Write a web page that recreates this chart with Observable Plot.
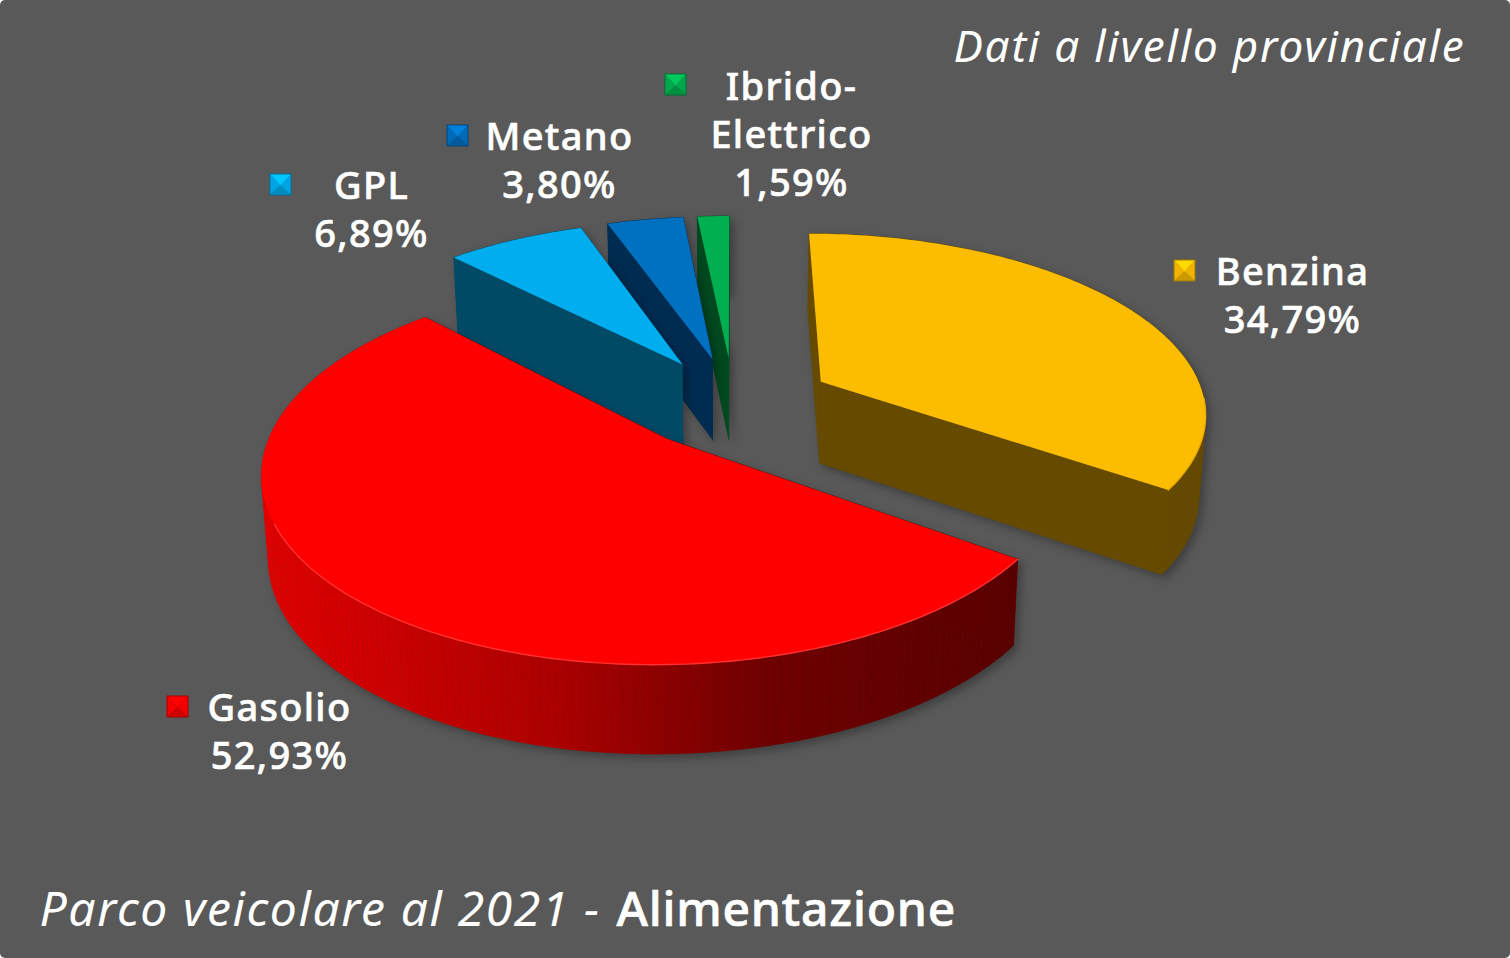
<!DOCTYPE html>
<html><head><meta charset="utf-8">
<script src="https://cdn.jsdelivr.net/npm/d3@7"></script>
<script src="https://cdn.jsdelivr.net/npm/@observablehq/plot@0.6"></script>
<style>
html,body{margin:0;padding:0;background:#fff}
svg{display:block;border-radius:5px}
g[aria-description="slice body"]{filter:drop-shadow(4px 4px 4px rgba(0,0,0,.3))}
g[aria-description="labels"] text{letter-spacing:1.3px;stroke:#fff;stroke-width:.6px}
g[aria-description="note"] text{letter-spacing:1.8px}
g[aria-description="title-a"] text{letter-spacing:1.6px}
g[aria-description="title-b"] text{letter-spacing:.8px;stroke:#fff;stroke-width:.7px}
</style></head><body><div id="chart"></div>
<script>
const categories=["Benzina","Gasolio","GPL","Metano","Ibrido-\nElettrico"];
const shares=[34.79,52.93,6.89,3.80,1.59];
const topColors=["#fcbd00","#ff0000","#00adef","#0070c0","#00b050"];
const wallColors=["#664a00","#660000","#004a66","#002c52","#004a20"];
const edgeColors=["#e8ad00","#ff3030",null,null,null];
const labelX=[1292,279,371,559,791];
const labelY=[293,729,207,158,132];
const keyX=[1184,177,280,457,675];
const keyY=[270,706,184,135,84];
const drawOrder=[4,3,2,0,1];
const rimStopsX=[270,560,660,760,1020];
const rimStopsColor=["#e00000","#aa0000","#8c0000","#700000","#580000"];

const W=1510,H=958;
const cx=733,cy=402,Rx=385,Ry=177.5,k=0.158,explode=0.26,startDeg=0,depthScale=0.985;
const rad=d=>d*Math.PI/180;
function project(u,v,bottom){
  const s=1/(1+k*v);
  let x=Rx*u*s, y=cy-Ry*v*s;
  if(bottom){x*=depthScale;y+=51+31*s;}
  return [cx+x,y];
}
let acc=startDeg;
const slices=shares.map((p,i)=>{const a0=acc,a1=acc+p/100*360;acc=a1;return {i,a0,a1,m:(a0+a1)/2};});
function ground(sl,r,a){
  return [explode*Math.sin(rad(sl.m))+r*Math.sin(rad(a)),explode*Math.cos(rad(sl.m))+r*Math.cos(rad(a))];
}
function poly(rows,id,color,pts){pts.forEach(p=>rows.push({id,color,x:p[0],y:p[1]}));}
const redRamp=d3.scaleLinear().domain(rimStopsX).range(rimStopsColor).clamp(true);
function sliceRows(sl){
  const body=[],top=[],edge=[];
  const P=(r,a,b)=>{const g=ground(sl,r,a);return project(g[0],g[1],b);};
  const w=wallColors[sl.i];
  poly(body,"cutA",w,[P(0,0,false),P(1,sl.a0,false),P(1,sl.a0,true),P(0,0,true)]);
  poly(body,"cutB",w,[P(0,0,false),P(1,sl.a1,false),P(1,sl.a1,true),P(0,0,true)]);
  const n=Math.max(2,Math.ceil((sl.a1-sl.a0)));
  const step=(sl.a1-sl.a0)/n;
  for(let j=0;j<n;j++){
    const a=sl.a0+j*step,b=a+step;
    const pa=P(1,a+step/2,false);
    const c=sl.i===1?d3.rgb(redRamp(pa[0])).formatHex():w;
    poly(body,"rim"+j,c,[P(1,a,false),P(1,b,false),P(1,b,true),P(1,a,true)]);
  }
  const arc=[P(0,0,false)];
  for(let j=0;j<=n;j++){
    const a=sl.a0+j*step,p=P(1,a,false);
    arc.push(p);
    if(edgeColors[sl.i]&&a>95&&a<245)edge.push({id:"edge",x:p[0],y:p[1]});
  }
  poly(top,"top",topColors[sl.i],arc);
  return {body,top,edge};
}
const marks=[];
const lineOpts={x:"x",y:"y",z:"id",fill:"color",stroke:"color",strokeWidth:.7,curve:"linear"};
drawOrder.forEach(i=>{
  const r=sliceRows(slices[i]);
  marks.push(Plot.line(r.body,{...lineOpts,ariaDescription:"slice body"}));
  marks.push(Plot.line(r.top,{...lineOpts,strokeWidth:0,stroke:null,ariaDescription:"slice top"}));
  if(r.edge.length)marks.push(Plot.line(r.edge,{x:"x",y:"y",stroke:edgeColors[i],strokeWidth:1.4,curve:"linear"}));
});
// legend keys: small bevelled pyramids
const keyRows=[];
categories.forEach((c,i)=>{
  const x=keyX[i],y=keyY[i],h=11,col=d3.color(topColors[i]);
  const dark=col.darker(1.2).formatHex(),low=col.darker(.6).formatHex(),base=col.darker(.15).formatHex(),lite=col.brighter(.4).formatHex();
  poly(keyRows,"k"+i+"o",dark,[[x-h,y-h],[x+h,y-h],[x+h,y+h],[x-h,y+h]]);
  poly(keyRows,"k"+i+"l",base,[[x-h+1,y-h+1],[x,y+1],[x-h+1,y+h-1]]);
  poly(keyRows,"k"+i+"r",base,[[x+h-1,y-h+1],[x,y+1],[x+h-1,y+h-1]]);
  poly(keyRows,"k"+i+"b",low,[[x-h+1,y+h-1],[x,y+1],[x+h-1,y+h-1]]);
  poly(keyRows,"k"+i+"t",lite,[[x-h+1,y-h+1],[x+h-1,y-h+1],[x,y+1]]);
});
marks.push(Plot.line(keyRows,{...lineOpts,strokeWidth:0,stroke:null}));
const font="Noto Sans";
const labels=categories.map((c,i)=>({t:c+"\n"+shares[i].toFixed(2).replace(".",",")+"%",x:labelX[i],y:labelY[i]}));
marks.push(Plot.text(labels,{x:"x",y:"y",text:"t",fill:"#fff",fontSize:38,fontWeight:500,fontFamily:font,lineHeight:1.27,textAnchor:"middle",lineAnchor:"middle",ariaDescription:"labels"}));
marks.push(Plot.text(["Dati a livello provinciale"],{x:()=>1465,y:()=>47,text:d=>d,fill:"#fff",fontSize:44,fontStyle:"italic",fontFamily:font,textAnchor:"end",lineAnchor:"middle",ariaDescription:"note"}));
marks.push(Plot.text(["Parco veicolare al 2021 - "],{x:()=>39,y:()=>910,text:d=>d,fill:"#fff",fontSize:48,fontStyle:"italic",fontFamily:font,textAnchor:"start",lineAnchor:"middle",ariaDescription:"title-a"}));
marks.push(Plot.text(["Alimentazione"],{x:()=>616,y:()=>910,text:d=>d,fill:"#fff",fontSize:48,fontWeight:500,fontFamily:font,textAnchor:"start",lineAnchor:"middle",ariaDescription:"title-b"}));
const chart=Plot.plot({width:W,height:H,margin:0,
  x:{domain:[0,W],range:[0,W],axis:null},
  y:{domain:[0,H],range:[0,H],axis:null},
  style:{background:"#595959"},
  marks});
document.getElementById("chart").append(chart);
</script></body></html>
